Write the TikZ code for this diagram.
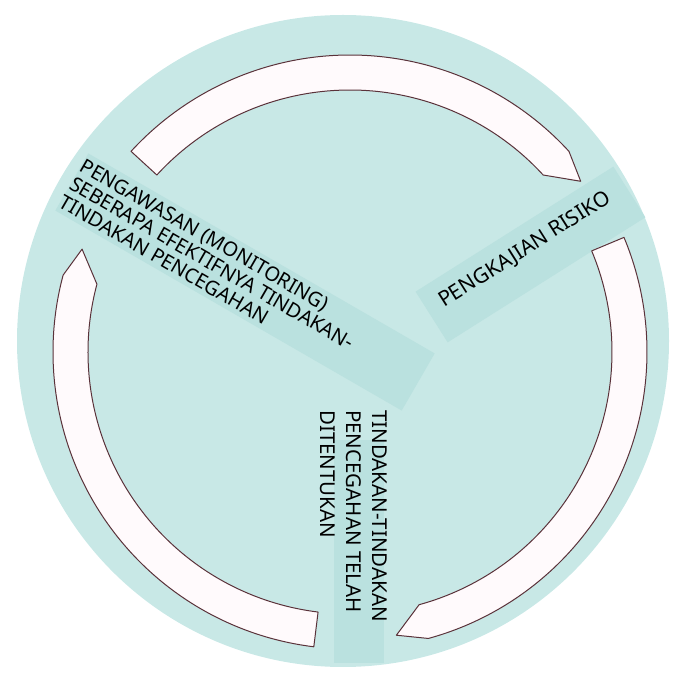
\documentclass[tikz,border=0pt]{standalone}
\usepackage{fontspec}
\setmainfont{Noto Sans}

\begin{document}
\begin{tikzpicture}[x=1pt,y=1pt,
    band/.style={fill=bandteal, inner sep=0pt},
    cyclearrow/.style={fill=arrowwhite, draw=arrowline, line width=1pt, line join=round},
    bandtext/.style={inner sep=0pt, text=black}]
        % Define ring radii
        \def\rout{297pt}
        \def\rin{262pt}
        \def\rtip{287pt}
        % Define colours
        \definecolor{discteal}{RGB}{200,232,230}
        \definecolor{bandteal}{RGB}{186,225,223}
        \definecolor{arrowwhite}{RGB}{255,250,252}
        \definecolor{arrowline}{RGB}{90,50,58}
        \useasboundingbox (0,0) rectangle (680,675);
        % Draw the disc
        \fill[discteal] (343,334) circle(326pt);
        % Draw the three bands
        \node[band, minimum width=234pt, minimum height=60pt, rotate=32.3] (riskband) at (530.5,420.5) {};
        \node[band, minimum width=400pt, minimum height=66pt, rotate=-30] (monitorband) at (245,393) {};
        \node[band, minimum width=50pt, minimum height=223pt] (actionband) at (359,123.5) {};
        % Draw the arrows round the ring
        \begin{scope}[shift={(350,323)}]
            \foreach \s/\e in {263/165, 137.5/42.5, 22.7/-74.7} {
                \draw[cyclearrow] (\s:\rout) arc[start angle=\s, end angle=\e, radius=\rout]
                    -- ({\e-6}:\rtip) -- (\e:\rin)
                    arc[start angle=\e, end angle=\s, radius=\rin] -- cycle;
            }
        \end{scope}
        % Draw the labels
        \node[bandtext, rotate=32.3, font=\fontsize{21}{25}\selectfont] (risk) at (525,425) {PENGKAJIAN RISIKO};
        \node[bandtext, rotate=-30, align=left, font=\fontsize{20}{21}\selectfont] (monitor) at (212,412)
            {PENGAWASAN (MONITORING)\\SEBERAPA EFEKTIFNYA TINDAKAN-\\TINDAKAN PENCEGAHAN};
        \node[bandtext, rotate=-90, anchor=west, align=left, font=\fontsize{20.5}{26}\selectfont] (action) at (354,265)
            {TINDAKAN-TINDAKAN\\PENCEGAHAN TELAH\\DITENTUKAN};
\end{tikzpicture}
\end{document}
